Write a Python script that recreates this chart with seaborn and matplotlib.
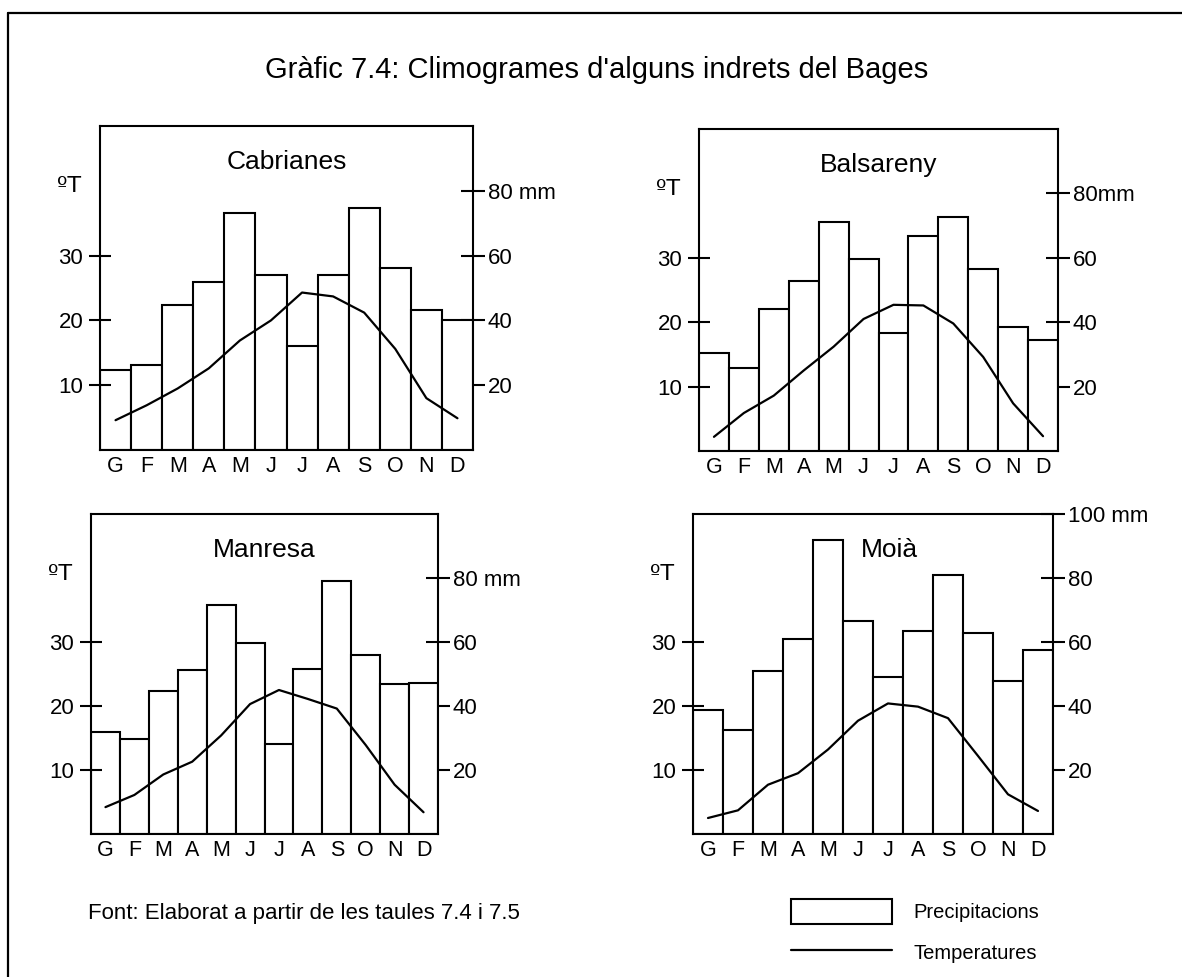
import numpy as np
import pandas as pd
import matplotlib
matplotlib.use("Agg")
import matplotlib.pyplot as plt
from matplotlib.lines import Line2D
from matplotlib.patches import Patch
import seaborn as sns

# ---------------- data ----------------
months = ['G', 'F', 'M', 'A', 'M', 'J', 'J', 'A', 'S', 'O', 'N', 'D']
stations = ['Cabrianes', 'Balsareny', 'Manresa', 'Moià']

cabrianes_precip = [24.7, 26.3, 44.6, 51.8, 73.3, 54.0, 32.0, 54.0, 74.6, 56.1, 43.2, 40.1]
cabrianes_temp = [4.6, 6.9, 9.5, 12.6, 16.9, 20.0, 24.3, 23.7, 21.2, 15.6, 8.0, 4.9]

balsareny_precip = [30.3, 25.9, 44.0, 52.7, 71.0, 59.6, 36.7, 66.7, 72.6, 56.4, 38.4, 34.6]
balsareny_temp = [2.2, 5.9, 8.6, 12.5, 16.2, 20.5, 22.7, 22.6, 19.8, 14.6, 7.4, 2.3]

manresa_precip = [32.0, 29.8, 44.6, 51.2, 71.7, 59.7, 28.2, 51.6, 79.0, 56.0, 47.0, 47.3]
manresa_temp = [4.2, 6.1, 9.3, 11.3, 15.4, 20.3, 22.5, 21.1, 19.6, 13.9, 7.7, 3.4]

moia_precip = [38.8, 32.6, 50.9, 60.8, 91.9, 66.6, 49.1, 63.5, 80.9, 62.9, 47.9, 57.5]
moia_temp = [2.5, 3.7, 7.7, 9.5, 13.2, 17.7, 20.4, 19.9, 18.1, 12.2, 6.2, 3.6]

temp_ticks = [10, 20, 30]
temp_tick_labels = ['10', '20', '30']
cabrianes_mm_ticks = [20, 40, 60, 80]
cabrianes_mm_labels = ['20', '40', '60', '80 mm']
balsareny_mm_ticks = [20, 40, 60, 80]
balsareny_mm_labels = ['20', '40', '60', '80mm']
manresa_mm_ticks = [20, 40, 60, 80]
manresa_mm_labels = ['20', '40', '60', '80 mm']
moia_mm_ticks = [20, 40, 60, 80, 100]
moia_mm_labels = ['20', '40', '60', '80', '100 mm']

title = "Gràfic 7.4: Climogrames d'alguns indrets del Bages"
source = "Font: Elaborat a partir de les taules 7.4 i 7.5"
legend_labels = ['Precipitacions', 'Temperatures']
temp_unit = 'ºT'

# ---------------- style ----------------
sns.set_style('white')
plt.rcParams['font.family'] = ['Liberation Sans', 'DejaVu Sans']
plt.rcParams['axes.edgecolor'] = 'black'
plt.rcParams['text.color'] = 'black'
plt.rcParams['xtick.color'] = 'black'
plt.rcParams['ytick.color'] = 'black'

W, H = 1182, 977
fig = plt.figure(figsize=(W / 100, H / 100), dpi=100)
fig.patch.set_facecolor('white')


def rect(x0, y0, x1, y1):
    return [x0 / W, 1 - y1 / H, (x1 - x0) / W, (y1 - y0) / H]


panels = [
    (stations[0], cabrianes_precip, cabrianes_temp, cabrianes_mm_ticks, cabrianes_mm_labels,
     rect(100, 126, 473, 450), 0),
    (stations[1], balsareny_precip, balsareny_temp, balsareny_mm_ticks, balsareny_mm_labels,
     rect(699, 129, 1058, 451), 0),
    (stations[2], manresa_precip, manresa_temp, manresa_mm_ticks, manresa_mm_labels,
     rect(91, 514, 438, 834), 0),
    (stations[3], moia_precip, moia_temp, moia_mm_ticks, moia_mm_labels,
     rect(693, 514, 1053, 834), 16),
]

LW = 1.5
TICK_FS = 16
for name, precip, temp, mm_ticks, mm_labels, r, title_dx in panels:
    ax = fig.add_axes(r)
    ax2 = ax.twinx()
    df = pd.DataFrame({'m': np.arange(12), 'p': precip, 't': temp})

    # precipitation bars (right scale, mm)
    sns.barplot(data=df, x='m', y='p', ax=ax, color='white', edgecolor='black',
                linewidth=LW, width=1.0, saturation=1, errorbar=None)
    ax.set_ylim(0, 100)
    ax.set_xlim(-0.5, 11.5)
    ax.set_xlabel('')
    ax.set_ylabel('')
    ax.set_xticks(range(12))
    ax.set_xticklabels(months)
    ax.tick_params(axis='x', length=0, pad=4, labelsize=15.5)
    ax.yaxis.set_ticks_position('right')
    ax.yaxis.set_label_position('right')
    ax.set_yticks(mm_ticks)
    ax.set_yticklabels(mm_labels)
    ax.tick_params(axis='y', direction='inout', length=17, width=LW, labelsize=TICK_FS,
                   pad=2, left=False, right=True, labelleft=False, labelright=True)
    for s in ax.spines.values():
        s.set_visible(True)
        s.set_color('black')
        s.set_linewidth(LW)

    # temperature line (left scale, ºC)
    sns.lineplot(data=df, x='m', y='t', ax=ax2, color='black', linewidth=1.6)
    ax2.set_ylim(0, 50)
    ax2.set_xlim(-0.5, 11.5)
    ax2.set_ylabel('')
    ax2.set_xlabel('')
    ax2.yaxis.set_ticks_position('left')
    ax2.yaxis.set_label_position('left')
    ax2.set_yticks(temp_ticks)
    ax2.set_yticklabels(temp_tick_labels)
    ax2.tick_params(axis='y', direction='inout', length=16, width=LW, labelsize=TICK_FS,
                    pad=4, left=True, right=False, labelleft=True, labelright=False)
    for s in ax2.spines.values():
        s.set_visible(False)

    ax.annotate(name, xy=(0.5, 1), xycoords='axes fraction',
                xytext=(title_dx * 0.72, -26), textcoords='offset points',
                ha='center', va='center', fontsize=19)
    ax.annotate(temp_unit, xy=(0, 1), xycoords='axes fraction',
                xytext=(-22, -43), textcoords='offset points',
                ha='center', va='center', fontsize=16,
                family=['DejaVu Sans'])

# frame
fig.add_artist(Line2D([8 / W, 1], [1 - 13 / H, 1 - 13 / H], transform=fig.transFigure,
                      color='black', lw=1.6))
fig.add_artist(Line2D([8 / W, 8 / W], [0, 1 - 13 / H], transform=fig.transFigure,
                      color='black', lw=1.6))

fig.text(597 / W, 1 - 70 / H, title, ha='center', va='center', fontsize=21)
fig.text(88 / W, 1 - 913 / H, source, ha='left', va='center', fontsize=16)

handles = [Patch(facecolor='white', edgecolor='black', linewidth=LW),
           Line2D([], [], color='black', lw=1.6)]
fig.legend(handles, legend_labels, loc='upper left',
           bbox_to_anchor=(791 / W, 1 - 899 / H), bbox_transform=fig.transFigure,
           frameon=False, fontsize=14.5, handlelength=5.0, handleheight=1.55,
           handletextpad=1.1, labelspacing=0.78, borderpad=0, borderaxespad=0)

fig.savefig('out.png', dpi=100, facecolor='white')
